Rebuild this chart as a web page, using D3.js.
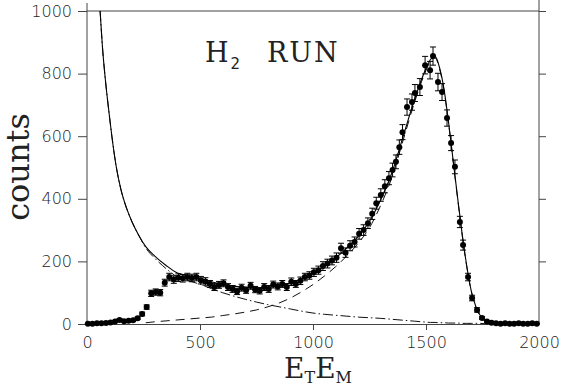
<!DOCTYPE html>
<html>
<head>
<meta charset="utf-8">
<script src="https://cdn.jsdelivr.net/npm/d3@7"></script>
<style>
  html, body { margin: 0; padding: 0; background: #fff; }
  svg { display: block; }
  .tick text { font-family: "DejaVu Sans", sans-serif; font-size: 16px; font-weight: 200; fill: #222; }
  .axis path, .axis line { stroke: #444; stroke-width: 1; }
</style>
</head>
<body>
<svg id="chart" width="561" height="391"></svg>
<script>
// ---------- data ----------
const dataE = [4,24,44,64,84,104,124,144,164,184,204,224,244,264,284,304,324,344,364,384,
  404,424,444,464,484,504,524,544,564,584,604,624,644,664,684,704,724,744,764,784,
  804,824,844,864,884,904,924,944,964,984,1004,1024,1044,1064,1084,1104,1124,1144,1164,1184,
  1204,1224,
  1243,1262,1280,1300,1318,1336,1352,1367,1382,1396,1416,1438,1451,1473,1496,1518,1531,1553,1571,1593,
  1611,1628,1650,1664,1686,1704,1726,1748,1770,
  1790,1810,1830,1850,1870,1890,1910,1930,1950,1970,1990];
const dataCounts = [1,1,2,2,3,5,8,13,9,10,12,18,32,54,98,102,100,132,150,142,
  148,146,150,147,150,140,136,128,118,125,130,118,112,104,116,108,122,110,106,118,
  112,126,120,128,118,135,128,138,150,155,165,172,185,193,203,212,242,228,250,262,
  288,300,
  322,352,386,412,440,466,492,518,565,613,693,709,738,757,827,811,856,773,741,658,
  578,502,326,252,150,83,45,19,8,
  4,2,1,2,1,1,2,1,1,2,1];
const dataErr = [1,1,1,1,2,2,3,4,3,3,3,4,6,7,10,10,10,11,12,12,
  12,12,12,12,12,12,12,11,11,11,11,11,11,10,11,10,11,10,10,11,
  11,11,11,11,11,12,11,12,12,12,13,13,14,14,14,15,16,15,16,16,
  17,17,
  17,18,19,20,21,21,22,22,23,24,26,26,27,27,28,28,29,28,27,26,
  24,22,18,16,12,9,7,4,3,
  2,1,1,1,1,1,1,1,1,1,1];

// fit curves
const curveE = [58,70,80,95,110,130,150,175,200,230,260,300,350,400,450,500,550,600,650,700,
  750,800,850,900,950,1000,1050,1100,1150,1200,1250,1300,1350,1400,1450,1500,1520,1540,1560,1580,
  1600,1620,1640,1660,1680,1700,1720,1740,1760,1780,1800,1850,1900,1950,2000];
const fitTotal = [1000,870,790,690,600,500,430,370,325,282,247,217,187,163,154,146,135,127,121,117,
  115,117,122,131,144,161,184,211,243,280,328,398,485,602,719,816,845,855,819,749,
  643,523,403,287,187,107,57,27,11,5,2,1,1,0,0];
const fitPeak = [null,null,null,null,null,null,null,null,null,null,4,7,10,13,16,19,22,27,32,38,
  45,55,67,83,103,126,153,183,218,258,308,380,470,590,710,810,840,850,815,745,
  640,520,400,285,185,105,55,25,10,4,1,0,null,null,null];
const fitBackground = [1000,870,790,690,600,500,430,370,325,282,243,210,177,150,138,127,113,100,89,79,
  70,62,55,48,41,35,31,28,25,22,20,18,15,12,9,6,5,5,4,4,
  3,3,3,2,2,2,2,2,1,1,1,1,0,0,0];

const xTicks = [0,500,1000,1500,2000];
const yTicks = [0,200,400,600,800,1000];
const yTicksRight = [200,400,600,800,1000];

// ---------- chart ----------
const svg = d3.select("#chart");
const x = d3.scaleLinear().domain([0,2000]).range([87,539]);
const y = d3.scaleLinear().domain([0,1000]).range([324,11]);

// frame line (top)
svg.append("line").attr("x1",87).attr("x2",539).attr("y1",y(1000)).attr("y2",y(1000))
  .attr("stroke","#444").attr("stroke-width",1);

svg.append("g").attr("class","axis").attr("transform","translate(87,0)")
  .call(d3.axisLeft(y).tickValues(yTicks).tickSize(9).tickSizeOuter(0).tickPadding(6).tickFormat(d3.format("d")))
  .call(g => g.select(".domain").attr("d","M0,3V324"));

svg.append("g").attr("class","axis").attr("transform","translate(539,0)")
  .call(d3.axisRight(y).tickValues(yTicksRight).tickSize(7).tickSizeOuter(0).tickFormat(""))
  .call(g => g.select(".domain").attr("d","M0,0V324"));

svg.append("g").attr("class","axis").attr("transform","translate(0,324)")
  .call(d3.axisBottom(x).tickValues(xTicks).tickSize(6).tickSizeOuter(0).tickPadding(7).tickFormat(d3.format("d")))
  .call(g => g.selectAll(".tick line").filter(d => d === 0 || d === 2000).remove());

// curves
svg.append("clipPath").attr("id","plotclip").append("rect")
  .attr("x",87).attr("y",11).attr("width",452).attr("height",314);
const pts = (arr) => curveE.map((e,i) => [e, arr[i]]);
const line = d3.line().defined(d => d[1] !== null).x(d => x(d[0])).y(d => y(d[1])).curve(d3.curveMonotoneX);

const cg = svg.append("g").attr("clip-path","url(#plotclip)");
cg.append("path").attr("d", line(pts(fitBackground))).attr("fill","none")
  .attr("stroke","#111").attr("stroke-width",1).attr("stroke-dasharray","10,3,1.5,3");
cg.append("path").attr("d", line(pts(fitPeak))).attr("fill","none")
  .attr("stroke","#111").attr("stroke-width",1).attr("stroke-dasharray","9,6");
cg.append("path").attr("d", line(pts(fitTotal))).attr("fill","none")
  .attr("stroke","#000").attr("stroke-width",1.1);

// data with error bars
const dg = svg.append("g");
const data = dataE.map((e,i) => ({e, c: dataCounts[i], s: dataErr[i]}));
const eb = dg.selectAll("g.eb").data(data).join("g").attr("class","eb");
eb.append("line").attr("x1", d => x(d.e)).attr("x2", d => x(d.e))
  .attr("y1", d => y(d.c - d.s)).attr("y2", d => y(d.c + d.s)).attr("stroke","#000").attr("stroke-width",1);
eb.append("line").attr("x1", d => x(d.e)-3).attr("x2", d => x(d.e)+3)
  .attr("y1", d => y(d.c + d.s)).attr("y2", d => y(d.c + d.s)).attr("stroke","#000").attr("stroke-width",1);
eb.append("line").attr("x1", d => x(d.e)-3).attr("x2", d => x(d.e)+3)
  .attr("y1", d => y(d.c - d.s)).attr("y2", d => y(d.c - d.s)).attr("stroke","#000").attr("stroke-width",1);
eb.append("circle").attr("cx", d => x(d.e)).attr("cy", d => y(d.c)).attr("r", 3).attr("fill","#000");

// title
const t = svg.append("text").attr("x",205).attr("y",62)
  .attr("font-family","'DejaVu Serif', serif").attr("font-size",27).attr("fill","#222");
t.append("tspan").text("H");
t.append("tspan").attr("font-family","'DejaVu Sans', sans-serif").attr("font-size",15).attr("dy",7).attr("dx",2).text("2");
t.append("tspan").attr("x",267).attr("dy",-7).attr("letter-spacing",2).text("RUN");

// x label
const xl = svg.append("text").attr("x",284).attr("y",378)
  .attr("font-family","'DejaVu Serif', serif").attr("font-size",28).attr("fill","#222");
xl.append("tspan").text("E");
xl.append("tspan").attr("font-size",16).attr("dy",5).text("T");
xl.append("tspan").attr("font-size",28).attr("dy",-5).text("E");
xl.append("tspan").attr("font-size",16).attr("dy",5).text("M");

// y label
svg.append("text").attr("transform","translate(29,167) rotate(-90)")
  .attr("text-anchor","middle")
  .attr("font-family","'DejaVu Serif', serif").attr("font-size",32).attr("fill","#222")
  .text("counts");
</script>
</body>
</html>
